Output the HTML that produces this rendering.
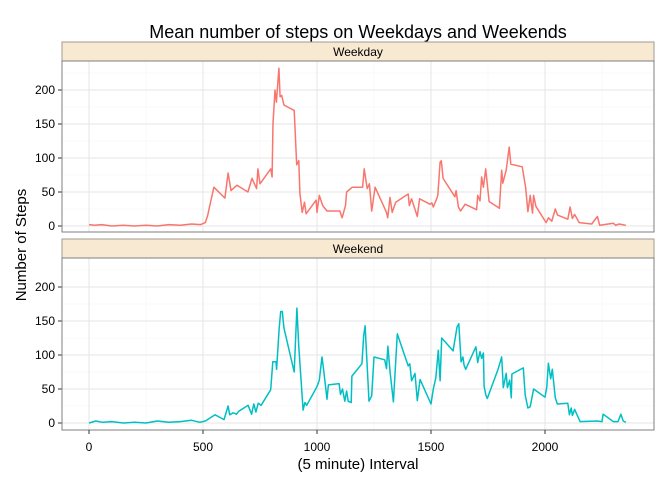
<!DOCTYPE html>
<html><head><meta charset="utf-8"><style>
body{margin:0;background:#fff;font-family:"Liberation Sans",sans-serif}
svg text{font-family:"Liberation Sans",sans-serif}
</style></head><body>
<svg id="c" width="672" height="480" xmlns="http://www.w3.org/2000/svg">
<text x="358" y="38" font-size="18" text-anchor="middle">Mean number of steps on Weekdays and Weekends</text>
<text x="358" y="469" font-size="15" text-anchor="middle">(5 minute) Interval</text>
<text x="26" y="245" font-size="15" text-anchor="middle" transform="rotate(-90 26 245)">Number of Steps</text>
</svg>
<script>
const xTicks=[0,500,1000,1500,2000];
const yTicks=[0,50,100,150,200];
const weekdayX=[0,25,55,100,150,200,250,300,350,400,450,490,510,520,530,548,596,610,623,649,697,715,735,741,750,797,803,807,816,822,833,838,845,855,900,911,920,925,935,945,952,996,1000,1010,1025,1044,1100,1110,1125,1130,1155,1200,1207,1220,1230,1240,1255,1305,1310,1320,1330,1345,1400,1405,1415,1440,1450,1495,1504,1510,1525,1530,1540,1545,1553,1605,1610,1620,1630,1650,1700,1705,1715,1722,1730,1740,1755,1800,1810,1815,1830,1843,1850,1900,1915,1925,1935,1945,1950,1960,2005,2015,2030,2045,2055,2100,2110,2120,2130,2150,2205,2230,2240,2300,2310,2325,2355];
const weekdayY=[2,1,2,0,1,0,1,0,2,1,3,2,5,15,30,57,41,78,52,60,50,70,55,84,62,84,72,151,200,182,232,190,192,178,170,90,96,48,20,35,18,38,20,45,30,22,22,12,30,50,57,57,84,55,62,22,57,20,12,42,20,35,47,30,40,14,40,32,34,28,40,45,94,96,70,43,52,28,22,32,24,45,37,72,57,84,36,26,82,63,82,116,91,87,57,21,45,19,45,29,5,12,7,25,16,10,28,11,17,5,3,14,1,4,1,3,1];
const weekendX=[0,30,60,100,150,200,250,300,350,400,450,487,510,553,592,610,617,632,647,656,698,713,723,732,742,755,797,806,820,823,834,841,848,855,900,912,920,939,947,955,999,1010,1022,1030,1044,1050,1097,1103,1112,1122,1130,1137,1150,1153,1197,1205,1211,1228,1240,1250,1297,1305,1311,1320,1335,1352,1400,1407,1415,1430,1440,1452,1500,1510,1521,1532,1540,1547,1597,1614,1622,1632,1640,1645,1652,1697,1705,1715,1722,1730,1733,1741,1747,1795,1810,1817,1830,1835,1845,1852,1855,1905,1913,1925,1935,1950,2000,2008,2015,2025,2032,2045,2054,2100,2107,2115,2120,2130,2154,2228,2250,2255,2300,2320,2333,2343,2355];
const weekendY=[0,3,1,2,0,1,0,3,1,2,4,1,3,12,5,25,12,15,13,17,26,13,28,16,29,26,49,90,90,79,140,164,164,140,75,169,112,19,30,26,53,63,97,76,35,56,58,42,50,32,47,32,30,69,87,129,143,32,40,97,93,80,113,76,31,131,84,87,62,73,33,64,28,50,66,107,62,125,106,141,146,90,97,85,79,112,89,105,95,103,54,41,36,80,97,52,73,52,63,37,72,81,41,22,24,50,38,53,88,65,79,37,28,29,12,22,11,20,2,3,2,13,2,2,13,3,1];
const NS='http://www.w3.org/2000/svg';
const svg=document.getElementById('c');
const X0=62,X1=654;
const xs=v=>89+v*0.228;
function el(t,a,p){const e=document.createElementNS(NS,t);for(const k in a)e.setAttribute(k,a[k]);(p||svg).appendChild(e);return e;}
function panel(name,stripY,top,bot,zeroY,xsArr,ysArr,color){
  const ys=s=>zeroY-s*0.68;
  const g=el('g',{});
  
  
  const st=el('rect',{x:X0,y:stripY,width:X1-X0,height:top-stripY,fill:'#f8e9d2',stroke:'#a09a8f','stroke-width':1},g);
  
  
  const stt=el('text',{x:(X0+X1)/2,y:stripY+14,'font-size':12,'text-anchor':'middle'},g);
  stt.textContent=name==='weekday'?'Weekday':'Weekend';
  
  
  el('rect',{x:X0,y:top,width:X1-X0,height:bot-top,fill:'#fff'},g);
  for(let v=250;v<2500;v+=500){el('line',{x1:xs(v),x2:xs(v),y1:top,y2:bot,stroke:'#f3f3f3','stroke-width':0.6},g);}
  for(let s=25;s<=225;s+=50){el('line',{x1:X0,x2:X1,y1:ys(s),y2:ys(s),stroke:'#f3f3f3','stroke-width':0.6},g);}
  xTicks.forEach(v=>{el('line',{x1:xs(v),x2:xs(v),y1:top,y2:bot,stroke:'#e6e6e6','stroke-width':1},g);});
  yTicks.forEach(s=>{el('line',{x1:X0,x2:X1,y1:ys(s),y2:ys(s),stroke:'#e6e6e6','stroke-width':1},g);
    el('line',{x1:X0-4,x2:X0,y1:ys(s),y2:ys(s),stroke:'#333','stroke-width':1},g);
    const t=el('text',{x:X0-7,y:ys(s)+4,'font-size':12,'text-anchor':'end',fill:'#000'},g);t.textContent=s;
    
    });
  const pts=xsArr.map((v,i)=>xs(v).toFixed(1)+','+ys(ysArr[i]).toFixed(1)).join(' ');
  const l=el('polyline',{points:pts,fill:'none',stroke:color,'stroke-width':1.5,'stroke-linejoin':'round'},g);
  
  
  el('rect',{x:X0,y:top,width:X1-X0,height:bot-top,fill:'none',stroke:'#7f7f7f','stroke-width':1},g);
}
panel('weekday',42,61,232,226,weekdayX,weekdayY,'#f8766d');
panel('weekend',239,258,430,423,weekendX,weekendY,'#00bfc4');
xTicks.forEach(v=>{el('line',{x1:xs(v),x2:xs(v),y1:430,y2:434,stroke:'#333','stroke-width':1});
  const t=el('text',{x:xs(v),y:451,'font-size':12,'text-anchor':'middle'});t.textContent=v;
  
  });
</script>
</body></html>
